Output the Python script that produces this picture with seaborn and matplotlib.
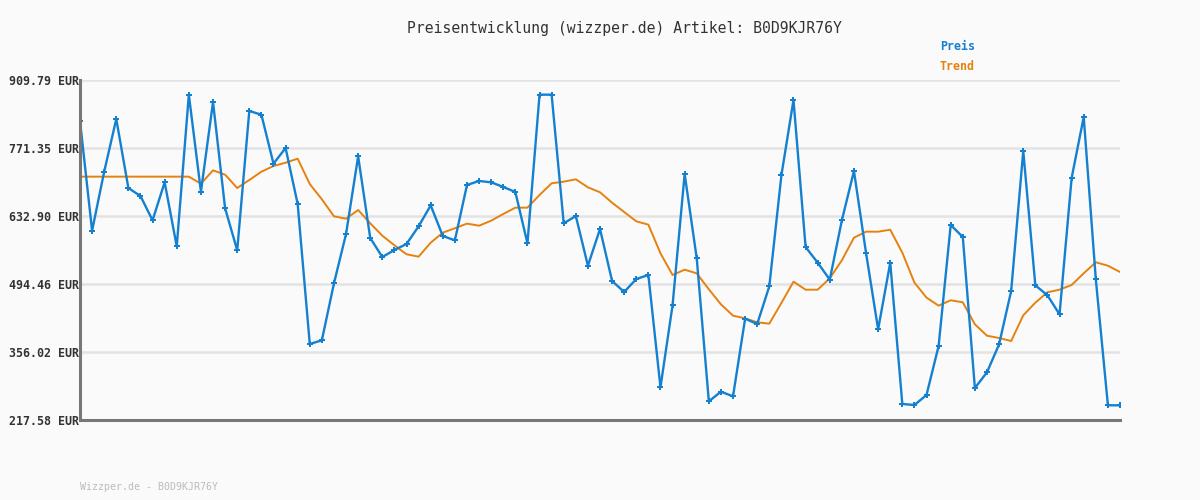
import numpy as np
import pandas as pd
import matplotlib
matplotlib.use("Agg")
import matplotlib.pyplot as plt
import seaborn as sns

# price values (EUR)
preis = [826.3, 603.0, 723.1, 830.4, 689.9, 673.6, 624.1, 701.5, 571.2, 879.9,
         682.4, 865.0, 648.5, 563.1, 846.7, 839.2, 739.4, 771.35, 657.4, 372.3,
         379.8, 495.8, 596.3, 754.4, 588.1, 549.4, 563.7, 575.9, 611.9, 654.6,
         592.2, 583.4, 696.0, 704.2, 701.5, 692.0, 681.8, 577.3, 879.9, 879.9,
         618.0, 632.9, 531.7, 606.4, 500.6, 478.2, 504.6, 512.8, 284.1, 451.1,
         718.4, 546.7, 255.6, 275.2, 265.8, 423.8, 413.0, 489.8, 715.7, 869.1,
         569.8, 537.9, 503.3, 624.1, 724.5, 557.6, 402.2, 537.9, 250.2, 248.1,
         268.5, 368.2, 614.6, 590.2, 282.7, 314.7, 371.6, 480.2, 765.2, 491.8,
         471.4, 432.7, 710.3, 834.5, 504.0, 247.5, 247.5]

trend = [713.0, 713.0, 713.0, 713.0, 713.0, 713.0, 713.0, 713.0, 713.0, 713.0,
         698.7, 725.9, 717.0, 689.9, 706.2, 723.1, 734.7, 741.4, 749.6, 698.0,
         666.9, 632.3, 627.4, 645.1, 618.0, 592.8, 573.3, 555.0, 550.1, 578.6,
         599.0, 607.9, 617.4, 613.2, 623.4, 637.0, 649.9, 649.9, 675.7, 699.5,
         702.8, 707.6, 691.3, 681.2, 660.0, 641.0, 622.1, 615.3, 557.0, 512.8,
         523.6, 516.2, 483.7, 453.1, 430.0, 424.6, 416.5, 413.7, 455.8, 499.2,
         482.9, 482.9, 506.0, 542.7, 588.7, 601.0, 601.0, 605.0, 558.3, 497.3,
         466.8, 450.3, 461.3, 457.2, 412.4, 389.2, 384.5, 378.4, 430.7, 456.4,
         477.6, 482.9, 492.5, 516.2, 538.7, 531.7, 518.9]

y_ticks = [217.58, 356.02, 494.46, 632.90, 771.35, 909.79]
artikel = "B0D9KJR76Y"

df = pd.DataFrame({"idx": np.arange(len(preis)), "Preis": preis, "Trend": trend})

sns.set_style("white")
plt.rcParams['font.family'] = ['DejaVu Sans Mono']

bg = "#fafafa"
blue = "#1480d0"
orange = "#e5820f"

fig = plt.figure(figsize=(12, 5), dpi=100, facecolor=bg)
ax = fig.add_axes([80/1200, 80/500, 1040/1200, 340/500])
ax.set_facecolor(bg)

# horizontal grid lines at the tick values
for t in y_ticks:
    ax.axhline(t, color="#e3e3e3", lw=1.8, zorder=0)

sns.lineplot(data=df, x="idx", y="Trend", ax=ax, color=orange, lw=1.4, zorder=2)
sns.lineplot(data=df, x="idx", y="Preis", ax=ax, color=blue, lw=1.7,
             marker="P", markersize=4, markeredgewidth=0, zorder=3)

ax.set_xlim(0, len(preis) - 1)
ax.set_ylim(y_ticks[0], y_ticks[-1])
ax.set_yticks(y_ticks)
ax.set_yticklabels([f"{t:.2f} EUR" for t in y_ticks], fontsize=8.4,
                   fontweight="bold", color="#333333")
ax.set_xticks([])
ax.tick_params(axis="y", length=0, pad=1)
ax.set_xlabel("")
ax.set_ylabel("")

for s in ["top", "right"]:
    ax.spines[s].set_visible(False)
for s in ["left", "bottom"]:
    ax.spines[s].set_color("#777777")
    ax.spines[s].set_linewidth(2.2)
    ax.spines[s].set_zorder(4)

fig.text(624/1200, 1 - 28/500, f"Preisentwicklung (wizzper.de) Artikel: {artikel}",
         ha="center", va="center", fontsize=10.6, color="#333333")
fig.text(975/1200, 1 - 47/500, "Preis", ha="right", va="center",
         fontsize=8.4, fontweight="bold", color=blue)
fig.text(975/1200, 1 - 67/500, "Trend", ha="right", va="center",
         fontsize=8.4, fontweight="bold", color=orange)
fig.text(80/1200, 1 - 487/500, f"Wizzper.de - {artikel}", ha="left", va="center",
         fontsize=7.1, color="#bbbbbb")

fig.savefig("out.png", dpi=100, facecolor=bg)
